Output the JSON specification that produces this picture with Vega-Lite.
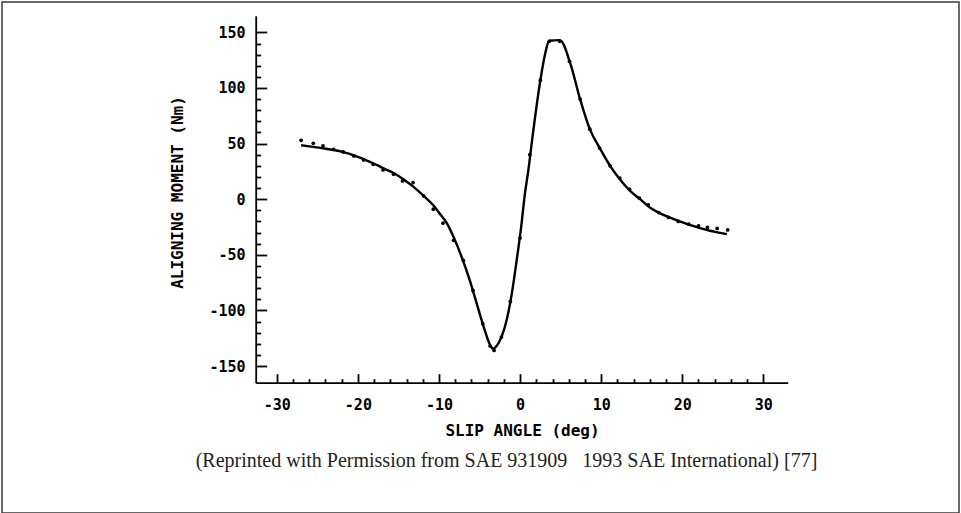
{
  "$schema": "https://vega.github.io/schema/vega-lite/v6.json",
  "width": 957,
  "height": 511,
  "autosize": {"type": "none"},
  "padding": {"left": 2, "top": 2, "right": 2, "bottom": 0},
  "background": "white",
  "config": {
    "view": {"stroke": "#3a3a3a", "strokeWidth": 1.5},
    "axis": {"grid": false, "labelOverlap": false, "labelFlush": false}
  },
  "title": {
    "text": "(Reprinted with Permission from SAE 931909\u00a0\u00a0\u00a01993 SAE International) [77]",
    "orient": "bottom",
    "anchor": "middle",
    "frame": "group",
    "offset": -46,
    "baseline": "alphabetic",
    "dx": 26,
    "font": "Liberation Serif",
    "fontSize": 20,
    "fontWeight": "normal",
    "color": "#222222"
  },
  "datasets": {
    "fit": [
      {"slip": -27.0, "moment": 48.5},
      {"slip": -25.5, "moment": 47.0},
      {"slip": -24.3, "moment": 45.8},
      {"slip": -23.0, "moment": 44.2},
      {"slip": -21.8, "moment": 42.3},
      {"slip": -20.5, "moment": 39.5},
      {"slip": -19.3, "moment": 36.0},
      {"slip": -18.1, "moment": 32.3},
      {"slip": -16.9, "moment": 28.0},
      {"slip": -15.6, "moment": 23.5},
      {"slip": -14.4, "moment": 18.0},
      {"slip": -13.2, "moment": 11.5},
      {"slip": -11.9, "moment": 3.0},
      {"slip": -10.7, "moment": -5.5},
      {"slip": -9.9, "moment": -13.0},
      {"slip": -9.0, "moment": -22.0},
      {"slip": -8.2, "moment": -34.0},
      {"slip": -7.2, "moment": -52.0},
      {"slip": -6.2, "moment": -73.0},
      {"slip": -5.3, "moment": -95.0},
      {"slip": -4.3, "moment": -119.0},
      {"slip": -3.7, "moment": -131.0},
      {"slip": -3.3, "moment": -134.5},
      {"slip": -2.9, "moment": -132.0},
      {"slip": -2.3, "moment": -124.0},
      {"slip": -1.6, "moment": -107.0},
      {"slip": -1.0, "moment": -84.0},
      {"slip": -0.4, "moment": -54.0},
      {"slip": 0.1, "moment": -27.0},
      {"slip": 0.6, "moment": 5.0},
      {"slip": 1.0, "moment": 25.0},
      {"slip": 1.6, "moment": 60.0},
      {"slip": 2.5, "moment": 107.0},
      {"slip": 3.1, "moment": 131.0},
      {"slip": 3.6, "moment": 142.5},
      {"slip": 4.9, "moment": 143.0},
      {"slip": 6.2, "moment": 122.0},
      {"slip": 7.4, "moment": 90.0},
      {"slip": 8.6, "moment": 63.0},
      {"slip": 9.9, "moment": 45.0},
      {"slip": 11.1, "moment": 30.0},
      {"slip": 12.3, "moment": 18.0},
      {"slip": 13.5, "moment": 8.0},
      {"slip": 14.8, "moment": 0.0},
      {"slip": 16.0, "moment": -7.5},
      {"slip": 17.2, "moment": -12.5},
      {"slip": 18.5, "moment": -16.5},
      {"slip": 19.7, "moment": -20.0},
      {"slip": 21.0, "moment": -23.4},
      {"slip": 22.2, "moment": -26.0},
      {"slip": 23.4, "moment": -28.4},
      {"slip": 24.5, "moment": -30.0},
      {"slip": 25.5, "moment": -31.4}
    ],
    "measured": [
      {"slip": -27.0, "moment": 53.0},
      {"slip": -25.5, "moment": 50.3},
      {"slip": -24.3, "moment": 47.9},
      {"slip": -23.0, "moment": 44.9},
      {"slip": -21.8, "moment": 42.5},
      {"slip": -20.5, "moment": 38.9},
      {"slip": -19.3, "moment": 35.3},
      {"slip": -18.1, "moment": 31.4},
      {"slip": -16.9, "moment": 26.3},
      {"slip": -15.6, "moment": 22.5},
      {"slip": -14.5, "moment": 16.4},
      {"slip": -13.2, "moment": 15.0},
      {"slip": -11.9, "moment": 3.0},
      {"slip": -10.7, "moment": -9.0},
      {"slip": -9.5, "moment": -21.6},
      {"slip": -8.2, "moment": -37.0},
      {"slip": -7.0, "moment": -55.0},
      {"slip": -5.8, "moment": -82.0},
      {"slip": -4.6, "moment": -112.0},
      {"slip": -3.7, "moment": -132.0},
      {"slip": -3.2, "moment": -136.0},
      {"slip": -2.3, "moment": -124.0},
      {"slip": -1.2, "moment": -92.0},
      {"slip": 0.0, "moment": -35.0},
      {"slip": 1.2, "moment": 40.0},
      {"slip": 2.5, "moment": 107.0},
      {"slip": 3.6, "moment": 142.0},
      {"slip": 4.9, "moment": 142.0},
      {"slip": 6.1, "moment": 124.0},
      {"slip": 7.4, "moment": 90.0},
      {"slip": 8.6, "moment": 63.0},
      {"slip": 9.8, "moment": 46.0},
      {"slip": 11.1, "moment": 30.0},
      {"slip": 12.3, "moment": 19.0},
      {"slip": 13.5, "moment": 9.0},
      {"slip": 14.7, "moment": 1.0},
      {"slip": 15.8, "moment": -5.1},
      {"slip": 17.1, "moment": -12.0},
      {"slip": 18.3, "moment": -16.4},
      {"slip": 19.5, "moment": -20.0},
      {"slip": 20.8, "moment": -22.5},
      {"slip": 22.0, "moment": -24.0},
      {"slip": 23.1, "moment": -25.4},
      {"slip": 24.3, "moment": -26.3},
      {"slip": 25.6, "moment": -27.6}
    ]
  },
  "resolve": {"axis": {"x": "independent", "y": "independent"}},
  "layer": [
    {
      "data": {"name": "fit"},
      "mark": {"type": "line", "color": "black", "strokeWidth": 2.4, "interpolate": "monotone"},
      "encoding": {
        "x": {
          "field": "slip",
          "type": "quantitative",
          "scale": {"domain": [-32.6, 33], "range": [253.7, 785.7], "nice": false, "zero": false},
          "axis": {
            "orient": "top",
            "offset": -380.7,
            "values": [-30, -20, -10, 0, 10, 20, 30],
            "labelExpr": "toString(datum.value)",
            "tickSize": 9,
            "tickWidth": 1.8,
            "tickColor": "black",
            "domainColor": "black",
            "domainWidth": 1.8,
            "labelPadding": -23.5,
            "labelBaseline": "top",
            "labelFont": "DejaVu Sans Mono",
            "labelFontWeight": "bold",
            "labelFontSize": 15,
            "labelColor": "black",
            "title": "SLIP ANGLE  (deg)",
            "titleFont": "DejaVu Sans Mono",
            "titleFontWeight": "bold",
            "titleFontSize": 16,
            "titleColor": "black",
            "titleX": 520,
            "titleY": 48,
            "titleAlign": "center",
            "titleBaseline": "middle"
          }
        },
        "y": {
          "field": "moment",
          "type": "quantitative",
          "scale": {"domain": [-165, 165], "range": [380.7, 13.7], "nice": false, "zero": false},
          "axis": {
            "orient": "right",
            "offset": -703.3,
            "values": [-150, -100, -50, 0, 50, 100, 150],
            "labelExpr": "toString(datum.value)",
            "tickSize": 11,
            "tickWidth": 1.8,
            "tickColor": "black",
            "domainColor": "black",
            "domainWidth": 1.8,
            "labelPadding": -21.7,
            "labelAlign": "right",
            "labelBaseline": "middle",
            "labelFont": "DejaVu Sans Mono",
            "labelFontWeight": "bold",
            "labelFontSize": 15,
            "labelColor": "black",
            "title": "ALIGNING MOMENT  (Nm)",
            "titleFont": "DejaVu Sans Mono",
            "titleFontWeight": "bold",
            "titleFontSize": 16,
            "titleColor": "black",
            "titleAngle": 270,
            "titleX": -78,
            "titleY": 190,
            "titleAlign": "center",
            "titleBaseline": "middle"
          }
        }
      }
    },
    {
      "data": {"name": "measured"},
      "mark": {"type": "point", "filled": true, "color": "black", "size": 14, "opacity": 1},
      "encoding": {
        "x": {
          "field": "slip",
          "type": "quantitative",
          "axis": {
            "orient": "top",
            "offset": -380.7,
            "values": [-28, -26, -24, -22, -18, -16, -14, -12, -8, -6, -4, -2, 2, 4, 6, 8, 12, 14, 16, 18, 22, 24, 26, 28],
            "tickSize": 4,
            "tickWidth": 1.8,
            "tickColor": "black",
            "domain": false,
            "labels": false,
            "title": null
          }
        },
        "y": {
          "field": "moment",
          "type": "quantitative",
          "axis": {
            "orient": "right",
            "offset": -703.3,
            "values": [-140, -130, -120, -110, -90, -80, -70, -60, -40, -30, -20, -10, 10, 20, 30, 40, 60, 70, 80, 90, 110, 120, 130, 140],
            "tickSize": 5,
            "tickWidth": 1.8,
            "tickColor": "black",
            "domain": false,
            "labels": false,
            "title": null
          }
        }
      }
    }
  ]
}
